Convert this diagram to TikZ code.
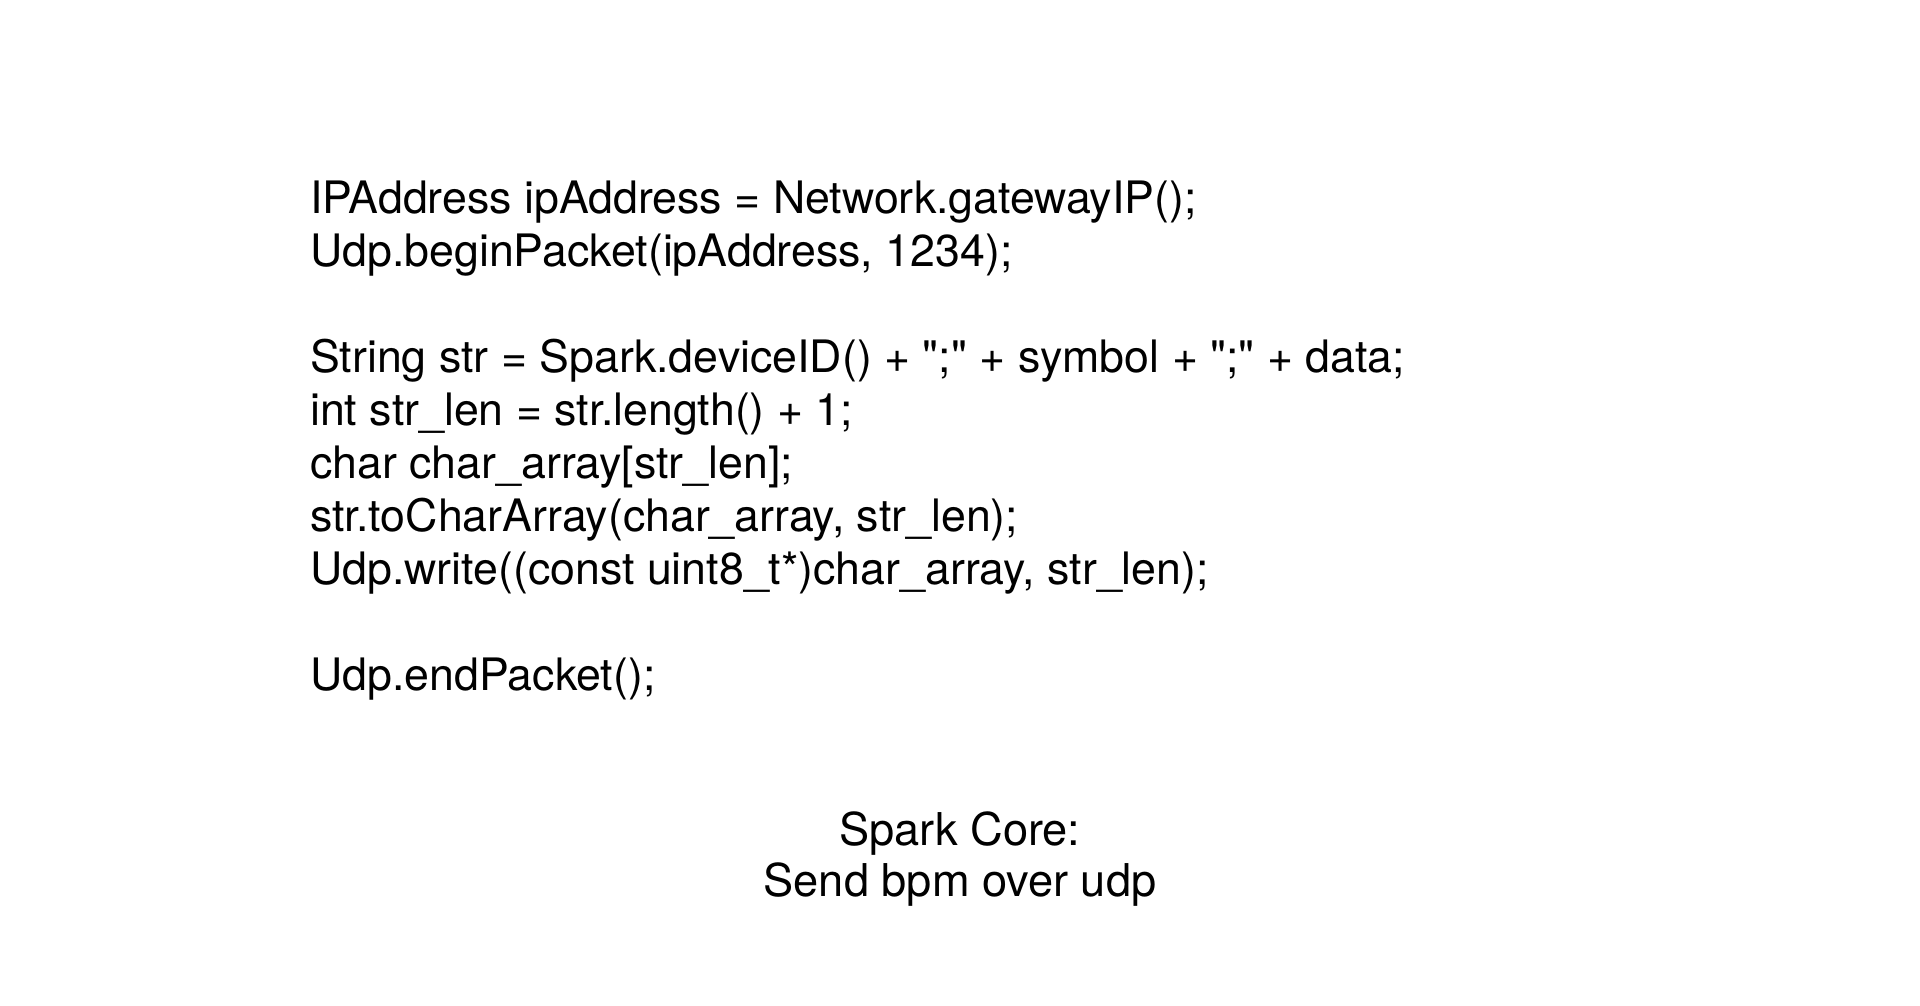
\documentclass[tikz,border=0pt]{standalone}
\usepackage{fontspec}
\setmainfont{TeX Gyre Heros}
\newfontfamily\codefont{TeX Gyre Heros}
\usepackage{tikz}

\begin{document}
\begin{tikzpicture}[x=1pt,y=1pt,yscale=-1,xscale=1,
	codeline/.style={anchor=base west,inner sep=0pt,font=\codefont\fontsize{44.7}{50}\selectfont},
	caption/.style={anchor=base,inner sep=0pt,font=\fontsize{45.2}{50}\selectfont}]
		%set diagram left start at 0, and has height of 1005
		\path [use as bounding box] (0,0) rectangle (1920,1005);
		
		% Text Node
		\node [codeline] (ip) at (310,213) {IPAddress ipAddress = Network.gatewayIP();};
		% Text Node
		\node [codeline] (begin) at (310,266) {Udp.beginPacket(ipAddress, 1234);};
		% Text Node
		\node [codeline] (str) at (310,372) {String str = Spark.deviceID() + ";" + symbol + ";" + data;};
		% Text Node
		\node [codeline] (len) at (310,425) {int str\_len = str.length() + 1;};
		% Text Node
		\node [codeline] (arr) at (310,478) {char char\_array[str\_len];};
		% Text Node
		\node [codeline] (conv) at (310,531) {str.toCharArray(char\_array, str\_len);};
		% Text Node
		\node [codeline] (write) at (310,584) {Udp.write((const uint8\_t*)char\_array, str\_len);};
		% Text Node
		\node [codeline] (end) at (310,690) {Udp.endPacket();};
		
		% Text Node
		\node [caption] (title) at (960,845) {Spark Core:};
		% Text Node
		\node [caption] (subtitle) at (960,896) {Send bpm over udp};
	\end{tikzpicture}
\end{document}
